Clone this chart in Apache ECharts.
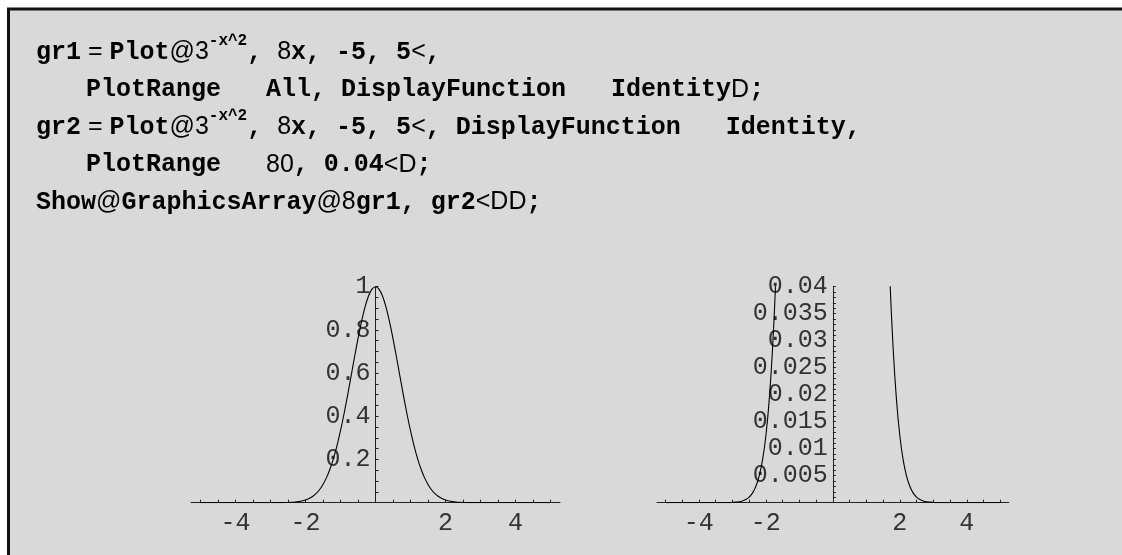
<!DOCTYPE html>
<html>
<head>
<meta charset="utf-8">
<script src="https://cdn.jsdelivr.net/npm/echarts@6/dist/echarts.min.js"></script>
<style>
html,body{margin:0;padding:0;background:#fff;}
#chart{width:1122px;height:555px;}
</style>
</head>
<body>
<div id="chart"></div>
<script>
// ---- data ----
var xValues = [-5.0,-4.9,-4.8,-4.7,-4.6,-4.5,-4.4,-4.3,-4.2,-4.1,-4.0,-3.9,-3.8,-3.7,-3.6,-3.5,-3.4,-3.3,-3.2,-3.1,
  -3.0,-2.9,-2.8,-2.7,-2.6,-2.5,-2.4,-2.3,-2.2,-2.1,-2.0,-1.9,-1.8,-1.7,-1.6,-1.5,-1.4,-1.3,-1.2,-1.1,
  -1.0,-0.9,-0.8,-0.7,-0.6,-0.5,-0.4,-0.3,-0.2,-0.1,0.0,0.1,0.2,0.3,0.4,0.5,0.6,0.7,0.8,0.9,
  1.0,1.1,1.2,1.3,1.4,1.5,1.6,1.7,1.8,1.9,2.0,2.1,2.2,2.3,2.4,2.5,2.6,2.7,2.8,2.9,
  3.0,3.1,3.2,3.3,3.4,3.5,3.6,3.7,3.8,3.9,4.0,4.1,4.2,4.3,4.4,4.5,4.6,4.7,4.8,4.9,5.0];
var yValues = [0,0,0,0,0,0,0,0,0,0,0,0,0,0,0,0,0,0,0,0,
  0.00005,0.0001,0.00018,0.00033,0.0006,0.00104,0.00178,0.00299,0.00491,0.00787,0.01235,0.019,0.0285,0.0418,0.0601,0.0844,0.1161,0.1562,0.2056,0.2647,
  0.3333,0.4107,0.495,0.5837,0.6733,0.7598,0.8388,0.9059,0.957,0.9891,1,0.9891,0.957,0.9059,0.8388,0.7598,0.6733,0.5837,0.495,0.4107,
  0.3333,0.2647,0.2056,0.1562,0.1161,0.0844,0.0601,0.0418,0.0285,0.019,0.01235,0.00787,0.00491,0.00299,0.00178,0.00104,0.0006,0.00033,0.00018,0.0001,
  0.00005,0,0,0,0,0,0,0,0,0,0,0,0,0,0,0,0,0,0,0,0];
var xTickLabels = [-4,-2,2,4];
var xTicks = [-5,-4.5,-4,-3.5,-3,-2.5,-2,-1.5,-1,-0.5,0.5,1,1.5,2,2.5,3,3.5,4,4.5,5];
var y1TickLabels = [0.2,0.4,0.6,0.8,1];
var y2TickLabels = [0.005,0.01,0.015,0.02,0.025,0.03,0.035,0.04];
var codeLines = [
  '{b|gr1}{s| = }{b|Plot}{s|@3}{sup|-x^2}{b|, }{s|8}{b|x, -5, 5}{s|<}{b|,}',
  '{b|PlotRange   All, DisplayFunction   Identity}{s|D}{b|;}',
  '{b|gr2}{s| = }{b|Plot}{s|@3}{sup|-x^2}{b|, }{s|8}{b|x, -5, 5}{s|<}{b|, DisplayFunction   Identity,}',
  '{b|PlotRange   }{s|80}{b|, 0.04}{s|<D}{b|;}',
  '{b|Show}{s|@}{b|GraphicsArray}{s|@8}{b|gr1, gr2}{s|<DD}{b|;}'
];

// ---- chart ----
var pairs = xValues.map(function(x,i){return [x, yValues[i]];});
var y1Ticks = [], y2Ticks = [];
for (var i = 1; i <= 20; i++) y1Ticks.push(+(i*0.05).toFixed(2));
for (var j = 1; j <= 40; j++) y2Ticks.push(+(j*0.001).toFixed(3));

var tickFont = {fontFamily:'Liberation Mono', fontSize:25, color:'#333'};
var grids = [
  {left:191, top:286.7, width:369, height:216},
  {left:657, top:286.7, width:351.7, height:216}
];
var xLim = [5.271, 5.249];
function xAxisCfg(gi) {
  return {
    type:'value', gridIndex:gi, min:-xLim[gi], max:xLim[gi],
    axisLine:{onZero:false, lineStyle:{color:'#222', width:1}},
    axisTick:{inside:true, length:3, customValues:xTicks, lineStyle:{color:'#222'}},
    axisLabel:Object.assign({customValues:xTickLabels, margin:8}, tickFont),
    splitLine:{show:false}
  };
}
function yAxisCfg(gi, max, ticks, labels) {
  return {
    type:'value', gridIndex:gi, min:0, max:max,
    offset:-(grids[gi].width / 2),
    axisLine:{onZero:false, lineStyle:{color:'#222', width:1}},
    axisTick:{inside:true, length:3, customValues:ticks, lineStyle:{color:'#222'}},
    axisLabel:Object.assign({customValues:labels, margin:5}, tickFont),
    splitLine:{show:false}
  };
}

var textStyles = {
  b:{fontFamily:'Liberation Mono', fontWeight:'bold', fontSize:25, color:'#000', lineHeight:32, verticalAlign:'bottom'},
  s:{fontFamily:'Liberation Sans', fontWeight:'normal', fontSize:25, color:'#111', lineHeight:32, verticalAlign:'bottom'},
  sup:{fontFamily:'Liberation Mono', fontWeight:'bold', fontSize:16, color:'#000', lineHeight:16, verticalAlign:'top'}
};
var lineX = [36, 86, 36, 86, 36];
var lineY = [49, 86.5, 124, 161.5, 199];
var graphics = [
  {type:'rect', shape:{x:7, y:8, width:1115, height:547}, style:{fill:'#d9d9d9'}, z:-10},
  {type:'line', shape:{x1:7, y1:9, x2:1122, y2:9}, style:{stroke:'#111', lineWidth:3}, z:-9},
  {type:'line', shape:{x1:8.5, y1:8, x2:8.5, y2:555}, style:{stroke:'#111', lineWidth:3}, z:-9}
];
codeLines.forEach(function(t, k){
  graphics.push({type:'text', x:lineX[k], y:lineY[k],
    style:{text:t, rich:textStyles, verticalAlign:'middle', align:'left'}});
});

var chart = echarts.init(document.getElementById('chart'), null, {renderer:'canvas'});
chart.setOption({
  backgroundColor:'#ffffff',
  animation:false,
  graphic:graphics,
  grid:grids,
  xAxis:[xAxisCfg(0), xAxisCfg(1)],
  yAxis:[yAxisCfg(0, 1, y1Ticks, y1TickLabels), yAxisCfg(1, 0.04, y2Ticks, y2TickLabels)],
  series:[
    {type:'line', xAxisIndex:0, yAxisIndex:0, data:pairs, showSymbol:false, smooth:0.3,
      lineStyle:{color:'#000', width:1.1}, clip:true, z:5},
    {type:'line', xAxisIndex:1, yAxisIndex:1, data:pairs, showSymbol:false, smooth:0.3,
      lineStyle:{color:'#000', width:1.1}, clip:true, z:5}
  ]
});
</script>
</body>
</html>
